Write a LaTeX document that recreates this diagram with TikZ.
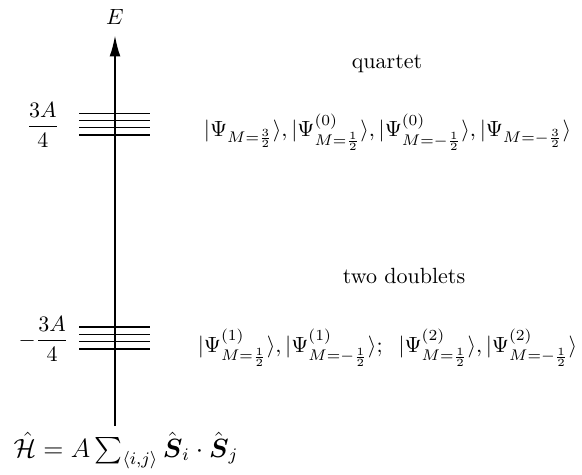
\documentclass[tikz,border=0pt]{standalone}
\usepackage{amsmath,amssymb}
\usetikzlibrary{arrows.meta}
\begin{document}
\begin{tikzpicture}[x=0.4545pt,y=-0.4545pt,
  level/.style={line width=0.6pt},
  axisline/.style={line width=0.75pt,-{Latex[length=9.5pt,width=4.9pt]}},
  lbl/.style={inner sep=0pt,anchor=base}]
\useasboundingbox (0,0) rectangle (582,475);
% axis
\coordinate (ax0) at (115,426);
\coordinate (ax1) at (115,35.5);
\draw[axisline] (ax0) -- (ax1);
\node[lbl] (E) at (115,25) {$E$};
% quartet levels
\foreach \y [count=\i] in {113.3,120.6,127.8,135.0}{
  \coordinate (qa\i) at (79,\y); \coordinate (qb\i) at (150,\y);
  \draw[level] (qa\i) -- (qb\i);
}
% doublet levels
\foreach \y [count=\i] in {327,334.3,341.6,349}{
  \coordinate (da\i) at (79,\y); \coordinate (db\i) at (150,\y);
  \draw[level] (da\i) -- (db\i);
}
\node[inner sep=0pt] (qE) at (43,125) {$\dfrac{3A}{4}$};
\node[inner sep=0pt] (dE) at (43.5,339) {$-\dfrac{3A}{4}$};
\node[lbl] (qt) at (387,68) {quartet};
\node[lbl] (qs) at (387.5,136.7) {$|\Psi_{M=\frac{3}{2}}\rangle, |\Psi^{(0)}_{M=\frac{1}{2}}\rangle, |\Psi^{(0)}_{M=-\frac{1}{2}}\rangle, |\Psi_{M=-\frac{3}{2}}\rangle$};
\node[lbl] (dt) at (404,283) {two doublets};
\node[lbl] (ds) at (387.5,352) {$|\Psi^{(1)}_{M=\frac{1}{2}}\rangle, |\Psi^{(1)}_{M=-\frac{1}{2}}\rangle;\;\; |\Psi^{(2)}_{M=\frac{1}{2}}\rangle, |\Psi^{(2)}_{M=-\frac{1}{2}}\rangle$};
\node[lbl,font=\large] (H) at (126,457) {$\hat{\mathcal{H}}=A\sum_{\langle i,j\rangle}\hat{\boldsymbol{S}}_i\cdot\hat{\boldsymbol{S}}_j$};
\end{tikzpicture}
\end{document}
